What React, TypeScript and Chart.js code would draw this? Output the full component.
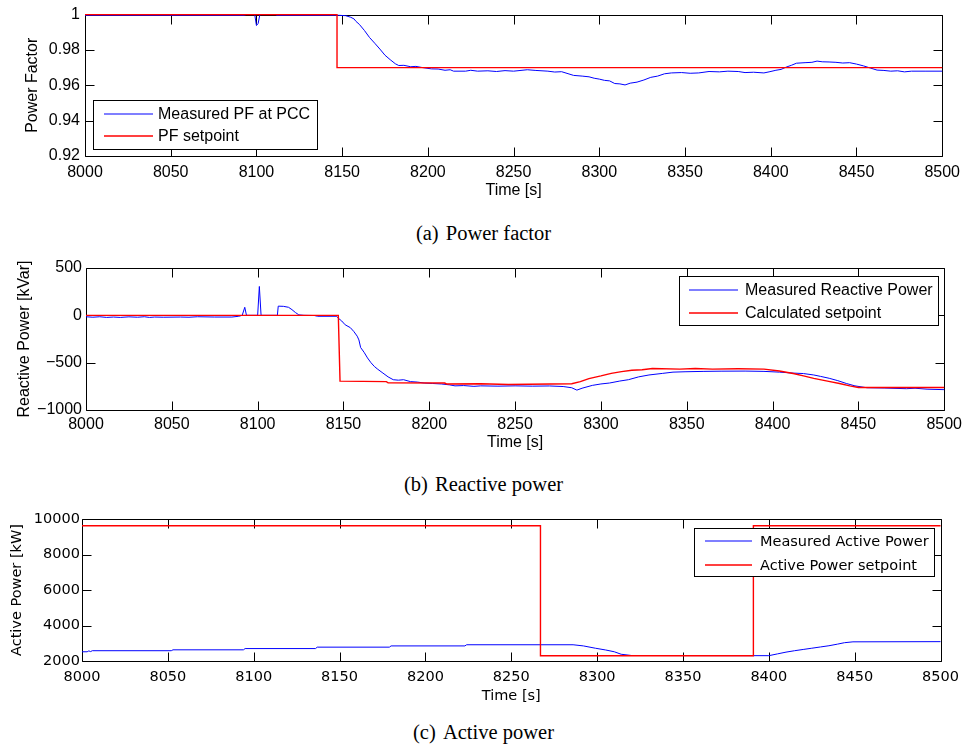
import React, { useEffect, useRef } from "react";
import { Chart, registerables } from "chart.js";

Chart.register(...registerables);

// ---------- data ----------
const timeMin = 8000;
const timeMax = 8500;
const timeStep = 50;

// (a) Power factor
const pfMeasuredTime = [
  8000, 8093, 8094, 8099, 8100, 8101, 8102, 8111, 8112, 8148, 8152, 8155, 8157, 8158, 8160, 8163, 8166,
  8169, 8172, 8175, 8178, 8181, 8183, 8186, 8190, 8193, 8197, 8202, 8206, 8210, 8213, 8215, 8222, 8225,
  8229, 8235, 8240, 8245, 8250, 8258, 8263, 8270, 8274, 8278, 8285, 8290, 8294, 8297, 8300, 8303, 8306,
  8309, 8312, 8315, 8318, 8322, 8326, 8330, 8334, 8338, 8342, 8348, 8353, 8358, 8364, 8370, 8375, 8381,
  8385, 8390, 8396, 8399, 8403, 8406, 8409, 8412, 8415, 8420, 8424, 8427, 8430, 8434, 8438, 8442, 8446,
  8450, 8454, 8458, 8462, 8466, 8470, 8474, 8478, 8482, 8490, 8500,
];
const pfMeasuredValue = [
  0.9996, 0.9996, 1.0, 1.0, 0.9938, 0.995, 1.0, 1.0, 0.9996, 0.9996, 0.9994, 0.9985, 0.9975, 0.9962,
  0.9945, 0.991, 0.987, 0.9838, 0.9805, 0.977, 0.9745, 0.9722, 0.9712, 0.9713, 0.9705, 0.9707, 0.97,
  0.9693, 0.9692, 0.9685, 0.9688, 0.968, 0.968, 0.9685, 0.968, 0.9682, 0.9678, 0.9683, 0.968, 0.9688,
  0.9684, 0.968, 0.9675, 0.9677, 0.9656, 0.9652, 0.9648, 0.964, 0.9635, 0.9628, 0.9625, 0.961, 0.9608,
  0.9602, 0.9612, 0.9618, 0.963, 0.9645, 0.9652, 0.9665, 0.967, 0.9672, 0.9668, 0.967, 0.9678, 0.9676,
  0.968, 0.9678, 0.9672, 0.9674, 0.967, 0.9676, 0.9685, 0.969, 0.9703, 0.9713, 0.9725, 0.9728, 0.973,
  0.9737, 0.9733, 0.9732, 0.973, 0.9726, 0.9728, 0.972, 0.971, 0.9698, 0.9686, 0.9684, 0.968, 0.9682,
  0.9676, 0.968, 0.968, 0.968,
];
const pfSetpointTime = [8000, 8147, 8147, 8500];
const pfSetpointValue = [1.0, 1.0, 0.97, 0.97];
const pfTicks = { min: 0.92, max: 1.0, step: 0.02 };

// (b) Reactive power
const qMeasuredTime = [
  8000, 8004, 8008, 8012, 8016, 8020, 8025, 8030, 8034, 8037, 8040, 8045, 8055, 8060, 8065, 8075, 8085,
  8089, 8091, 8092.5, 8093.5, 8100, 8101, 8102, 8111.5, 8112, 8115, 8118, 8120, 8122, 8124, 8127, 8133,
  8135, 8146, 8147, 8149, 8151, 8154, 8156, 8158, 8159, 8160, 8162, 8164, 8166, 8168, 8170, 8173, 8176,
  8179, 8182, 8185, 8189, 8193, 8197, 8202, 8207, 8212, 8215, 8220, 8226, 8230, 8240, 8250, 8260, 8270,
  8278, 8283, 8286, 8289, 8295, 8300, 8305, 8311, 8316, 8322, 8328, 8336, 8342, 8349, 8360, 8370, 8384,
  8395, 8404, 8412, 8418, 8424, 8428, 8433, 8438, 8443, 8448, 8455, 8465, 8478, 8483, 8490, 8500,
];
const qMeasuredValue = [
  -15, -20, -15, -22, -18, -22, -16, -20, -15, -22, -18, -20, -18, -20, -15, -18, -18, -10, 0, 85, 0, 0,
  305, 0, 0, 97, 95, 85, 60, 30, 5, 0, -2, -10, -10, -30, -60, -100, -130, -170, -220, -260, -340, -390,
  -450, -500, -540, -570, -610, -650, -680, -685, -680, -700, -705, -715, -720, -725, -735, -745, -742,
  -750, -745, -748, -745, -748, -746, -752, -765, -790, -770, -740, -725, -715, -694, -680, -650, -630,
  -613, -600, -596, -592, -590, -589, -592, -600, -610, -615, -630, -645, -665, -690, -720, -745, -765,
  -768, -775, -770, -780, -785,
];
const qSetpointTime = [
  8000, 8147, 8148, 8175, 8176, 8209, 8210, 8230, 8246, 8283, 8288, 8293, 8300, 8306, 8312, 8318, 8324,
  8330, 8346, 8355, 8365, 8380, 8395, 8404, 8412, 8418, 8424, 8432, 8439, 8445, 8450, 8463, 8500,
];
const qSetpointValue = [
  0, 0, -695, -700, -712, -715, -725, -722, -730, -722, -700, -668, -640, -613, -595, -580, -575, -562,
  -568, -562, -568, -565, -568, -588, -615, -640, -666, -695, -720, -745, -762, -762, -762,
];
const qTicks = { min: -1000, max: 500, step: 500 };

// (c) Active power
const pMeasuredTime = [
  8000, 8003, 8004, 8005, 8006, 8052, 8053, 8094, 8095, 8136, 8137, 8179, 8180, 8223, 8224, 8286, 8292,
  8299, 8305, 8310, 8314, 8320, 8400, 8405, 8410, 8415, 8420, 8425, 8430, 8435, 8440, 8444, 8449, 8500,
];
const pMeasuredValue = [
  2520, 2520, 2570, 2530, 2580, 2580, 2630, 2630, 2700, 2700, 2780, 2780, 2850, 2850, 2915, 2915, 2850,
  2720, 2620, 2520, 2380, 2310, 2300, 2400, 2500, 2580, 2650, 2720, 2790, 2860, 2950, 3030, 3080, 3090,
];
const pSetpointTime = [8000, 8267, 8267, 8391, 8391, 8500];
const pSetpointValue = [9620, 9620, 2300, 2300, 9620, 9620];
const pTicks = { min: 2000, max: 10000, step: 2000 };

const BLUE = "#0000ff";
const RED = "#ff0000";

// ---------- helpers ----------
function pts(t: number[], v: number[]) {
  return t.map((x, i) => ({ x, y: v[i] }));
}

const framePlugin = {
  id: "frame",
  beforeDatasetsDraw(chart: any) {
    const { ctx, chartArea } = chart;
    const { left, right, top, bottom } = chartArea;
    const tl = 9;
    ctx.save();
    ctx.strokeStyle = "#000";
    ctx.lineWidth = 1;
    ctx.beginPath();
    const L = Math.round(left) + 0.5;
    const R = Math.round(right) + 0.5;
    const T = Math.round(top) + 0.5;
    const B = Math.round(bottom) + 0.5;
    ctx.rect(L, T, R - L, B - T);
    const xs = chart.scales.x;
    xs.ticks.forEach((tk: any) => {
      const px = Math.round(xs.getPixelForValue(tk.value)) + 0.5;
      ctx.moveTo(px, B);
      ctx.lineTo(px, B - tl);
      ctx.moveTo(px, T);
      ctx.lineTo(px, T + tl);
    });
    const ys = chart.scales.y;
    ys.ticks.forEach((tk: any) => {
      const py = Math.round(ys.getPixelForValue(tk.value)) + 0.5;
      ctx.moveTo(L, py);
      ctx.lineTo(L + tl, py);
      ctx.moveTo(R, py);
      ctx.lineTo(R - tl, py);
    });
    ctx.stroke();
    ctx.restore();
  },
  afterDatasetsDraw(chart: any, _args: any, opts: any) {
    const lg = opts && opts.legend;
    if (!lg) return;
    const { ctx } = chart;
    ctx.save();
    ctx.fillStyle = "#fff";
    ctx.fillRect(lg.x1, lg.y1, lg.x2 - lg.x1, lg.y2 - lg.y1);
    ctx.strokeStyle = "#000";
    ctx.lineWidth = 1;
    ctx.strokeRect(lg.x1 + 0.5, lg.y1 + 0.5, lg.x2 - lg.x1, lg.y2 - lg.y1);
    ctx.font = lg.font;
    ctx.textBaseline = "middle";
    ctx.textAlign = "left";
    lg.items.forEach((it: any, i: number) => {
      const y = lg.rows[i];
      ctx.strokeStyle = it.color;
      ctx.lineWidth = it.width;
      ctx.beginPath();
      ctx.moveTo(lg.lineX1, y);
      ctx.lineTo(lg.lineX2, y);
      ctx.stroke();
      ctx.fillStyle = "#000";
      ctx.fillText(it.label, lg.textX, y + 1);
    });
    ctx.restore();
  },
};

type Panel = {
  canvasTop: number;
  canvasHeight: number;
  area: { left: number; right: number; top: number; bottom: number };
  ticks: { min: number; max: number; step: number };
  fmt: (v: number) => string;
  yTitle: string;
  fontFamily: string;
  fontSize: number;
  yLabelPad: number;
  xLabelPad: number;
  yTitleCenter: number;
  xTitleCenter: number;
  series: { label: string; color: string; width: number; t: number[]; v: number[] }[];
  legend: {
    x1: number; y1: number; x2: number; y2: number;
    lineX1: number; lineX2: number; textX: number; rows: number[];
  };
};

const W = 967;

function PanelChart({ p }: { p: Panel }) {
  const ref = useRef<HTMLCanvasElement | null>(null);
  useEffect(() => {
    if (!ref.current) return;
    const lh = p.fontSize * 1.2;
    const font = { family: p.fontFamily, size: p.fontSize, lineHeight: 1.2 };
    const localTop = p.area.top - p.canvasTop;
    const localBottom = p.area.bottom - p.canvasTop;
    const xHeight = p.canvasHeight - localBottom;
    const datasets = p.series.map((s) => ({
      label: s.label,
      data: pts(s.t, s.v),
      borderColor: s.color,
      backgroundColor: s.color,
      borderWidth: s.width,
      pointRadius: 0,
      tension: 0,
      fill: false,
      clip: 3,
    }));
    // draw setpoint (red) on top: dataset 0 is drawn last
    const ordered = [datasets[1], datasets[0]];
    const chart = new Chart(ref.current, {
      type: "line",
      data: { datasets: ordered as any },
      options: {
        animation: false,
        responsive: false,
        maintainAspectRatio: false,
        events: [],
        layout: {
          padding: { top: localTop, right: W - p.area.right, left: 0, bottom: 0 },
        },
        plugins: {
          legend: { display: false },
          tooltip: { enabled: false },
          frame: {
            legend: {
              x1: p.legend.x1,
              y1: p.legend.y1 - p.canvasTop,
              x2: p.legend.x2,
              y2: p.legend.y2 - p.canvasTop,
              lineX1: p.legend.lineX1,
              lineX2: p.legend.lineX2,
              textX: p.legend.textX,
              rows: p.legend.rows.map((r) => r - p.canvasTop),
              font: `${p.fontSize}px "${p.fontFamily}"`,
              items: p.series.map((s) => ({ label: s.label, color: s.color, width: s.width + 0.2 })),
            },
          },
        } as any,
        scales: {
          x: {
            type: "linear",
            min: timeMin,
            max: timeMax,
            grid: { display: false, drawTicks: false },
            border: { display: false },
            ticks: {
              stepSize: timeStep,
              autoSkip: false,
              maxRotation: 0,
              padding: p.xLabelPad,
              color: "#000",
              font,
              callback: (v: any) => String(v),
            },
            title: {
              display: true,
              text: "Time [s]",
              color: "#000",
              font,
              padding: { top: 0, bottom: p.canvasHeight - (p.xTitleCenter - p.canvasTop) - lh / 2 },
            },
            afterFit: (s: any) => {
              s.height = xHeight;
            },
          },
          y: {
            type: "linear",
            min: p.ticks.min,
            max: p.ticks.max,
            grid: { display: false, drawTicks: false },
            border: { display: false },
            ticks: {
              stepSize: p.ticks.step,
              autoSkip: false,
              padding: p.yLabelPad,
              color: "#000",
              font,
              callback: (v: any) => p.fmt(Number(v)),
            },
            title: {
              display: true,
              text: p.yTitle,
              color: "#000",
              font,
              padding: { top: p.yTitleCenter - lh / 2, bottom: 0 },
            },
            afterFit: (s: any) => {
              s.width = p.area.left;
            },
          },
        },
      } as any,
      plugins: [framePlugin as any],
    });
    return () => chart.destroy();
  }, [p]);
  return (
    <canvas
      ref={ref}
      width={W}
      height={p.canvasHeight}
      style={{ position: "absolute", left: 0, top: p.canvasTop, width: W, height: p.canvasHeight }}
    />
  );
}

const panels: Panel[] = [
  {
    canvasTop: 0,
    canvasHeight: 212,
    area: { left: 85, right: 946, top: 14, bottom: 156 },
    ticks: pfTicks,
    fmt: (v) => String(Math.round(v * 100) / 100),
    yTitle: "Power Factor",
    fontFamily: "Liberation Sans",
    fontSize: 16,
    yLabelPad: 5,
    xLabelPad: 7,
    yTitleCenter: 32.5,
    xTitleCenter: 190.5,
    series: [
      { label: "Measured PF at PCC", color: BLUE, width: 1, t: pfMeasuredTime, v: pfMeasuredValue },
      { label: "PF setpoint", color: RED, width: 1.4, t: pfSetpointTime, v: pfSetpointValue },
    ],
    legend: { x1: 93, y1: 100, x2: 317, y2: 149, lineX1: 104, lineX2: 153, textX: 158, rows: [114, 136] },
  },
  {
    canvasTop: 250,
    canvasHeight: 212,
    area: { left: 86, right: 946, top: 268, bottom: 410 },
    ticks: qTicks,
    fmt: (v) => (v < 0 ? "\u2212" + String(Math.abs(v)) : String(v)),
    yTitle: "Reactive Power [kVar]",
    fontFamily: "Liberation Sans",
    fontSize: 16,
    yLabelPad: 4,
    xLabelPad: 5,
    yTitleCenter: 24.5,
    xTitleCenter: 443,
    series: [
      { label: "Measured Reactive Power", color: BLUE, width: 1, t: qMeasuredTime, v: qMeasuredValue },
      { label: "Calculated setpoint", color: RED, width: 1.4, t: qSetpointTime, v: qSetpointValue },
    ],
    legend: { x1: 679, y1: 276, x2: 938, y2: 325, lineX1: 689, lineX2: 738, textX: 745, rows: [290, 313] },
  },
  {
    canvasTop: 500,
    canvasHeight: 212,
    area: { left: 82, right: 943, top: 519, bottom: 661 },
    ticks: pTicks,
    fmt: (v) => String(v),
    yTitle: "Active Power [kW]",
    fontFamily: "DejaVu Sans",
    fontSize: 14.5,
    yLabelPad: 2,
    xLabelPad: 8,
    yTitleCenter: 17.5,
    xTitleCenter: 696,
    series: [
      { label: "Measured Active Power", color: BLUE, width: 1, t: pMeasuredTime, v: pMeasuredValue },
      { label: "Active Power setpoint", color: RED, width: 1.4, t: pSetpointTime, v: pSetpointValue },
    ],
    legend: { x1: 694, y1: 528, x2: 934, y2: 576, lineX1: 705, lineX2: 752, textX: 760, rows: [541, 565] },
  },
];

const captions = [
  { tag: "(a)", text: "Power factor", center: 233 },
  { tag: "(b)", text: "Reactive power", center: 484 },
  { tag: "(c)", text: "Active power", center: 732 },
];

export default function App() {
  return (
    <div
      style={{
        position: "absolute",
        left: 0,
        top: 0,
        width: W,
        height: 747,
        background: "#fff",
        overflow: "hidden",
      }}
    >
      {panels.map((p, i) => (
        <PanelChart key={i} p={p} />
      ))}
      {captions.map((c, i) => (
        <div
          key={i}
          style={{
            position: "absolute",
            left: 0,
            width: W,
            top: c.center - 12,
            height: 24,
            lineHeight: "24px",
            textAlign: "center",
            fontFamily: '"Liberation Serif", serif',
            fontSize: 20.5,
            color: "#000",
            whiteSpace: "nowrap",
          }}
        >
          {c.tag}
          <span style={{ marginLeft: "0.35em" }}>{c.text}</span>
        </div>
      ))}
    </div>
  );
}
